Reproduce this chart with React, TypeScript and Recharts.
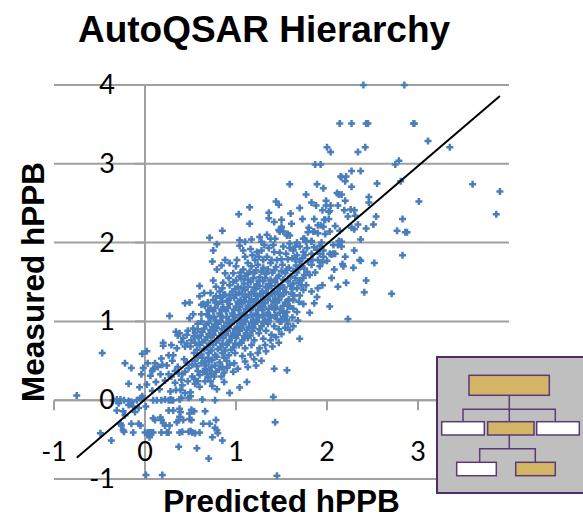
import { ScatterChart, Scatter, XAxis, YAxis, CartesianGrid, ReferenceLine } from 'recharts';

const xTicks = [-1, 0, 1, 2, 3, 4];
const yTicks = [-1, 0, 1, 2, 3, 4];
const xTickLabels = [-1, 0, 1, 2, 3];
const fitLine = [{ x: -0.75, y: -0.73 }, { x: 3.9, y: 3.86 }];

// [predicted, measured]
const upperTail = [
    [2.4, 4], [2.85, 4], [2.14, 3.51], [2.27, 3.51], [2.43, 3.51], [2.45, 3.51], [2.95, 3.51], [2.96, 3.51],
    [3.11, 3.29], [3.35, 3.21], [2.0, 3.21], [2.04, 3.15], [2.34, 3.15], [2.42, 3.21], [1.87, 2.99], [1.93, 2.99],
    [2.75, 2.99], [2.79, 3.04], [2.27, 2.91], [2.37, 2.91], [2.15, 2.84], [2.16, 2.83], [2.21, 2.84], [2.2, 2.78],
    [2.55, 2.75], [2.81, 2.78], [2.27, 2.71], [1.89, 2.74], [1.96, 2.69], [3.6, 2.74], [3.9, 2.65], [3.86, 2.36],
    [1.77, 2.61], [2.11, 2.63], [2.13, 2.61], [2.16, 2.61], [2.46, 2.58], [2.46, 2.51], [2.2, 2.53], [3.01, 2.52],
    [1.83, 2.51], [1.88, 2.47], [1.7, 2.44], [1.95, 2.41], [1.99, 2.53], [1.99, 2.47], [2.04, 2.47], [2.12, 2.47],
    [2.03, 2.4], [2.02, 2.39], [2.19, 2.41], [2.26, 2.42], [2.3, 2.41], [2.23, 2.33], [2.31, 2.34], [2.54, 2.33],
    [2.83, 2.3], [1.73, 2.3], [1.61, 2.24], [1.86, 2.3], [1.97, 2.29], [2.02, 2.3], [2.34, 2.23], [2.51, 2.23],
    [2.27, 2.19], [2.3, 2.17], [2.43, 2.18], [2.09, 2.21], [1.9, 2.22], [1.93, 2.22], [1.8, 2.19], [1.79, 2.13],
    [1.86, 2.14], [1.9, 2.12], [2.03, 2.14], [1.98, 2.11], [2.14, 2.15], [2.77, 2.15], [2.86, 2.13], [2.88, 2.13],
    [2.37, 2.04], [1.75, 2.05], [1.77, 2.02], [1.83, 2.02], [1.94, 2.0], [2.13, 2.02], [2.16, 2.01], [2.3, 1.9],
    [2.16, 1.95], [1.67, 2.0], [1.65, 1.95], [2.83, 1.84], [2.2, 1.82], [2.07, 1.86], [2.05, 1.85], [2.37, 1.77],
    [2.36, 1.78], [2.52, 1.74], [2.17, 1.73], [2.18, 1.7], [2.29, 1.68], [2.08, 1.66], [2.43, 1.52], [2.21, 1.49],
    [2.12, 1.44], [2.05, 1.55], [1.95, 1.46], [2.41, 1.37], [2.71, 1.35], [2.03, 1.19], [2.23, 1.03], [1.7, 0.78],
    [1.74, 1.22], [1.86, 1.23], [1.81, 1.11], [1.68, 1.01], [1.63, 0.94], [1.89, 1.31], [1.67, 1.12], [1.63, 1.16],
    [1.59, 1.19], [1.56, 1.12], [1.52, 1.06], [1.48, 1.0], [1.56, 1.02], [1.9, 1.42], [1.83, 1.38], [1.7, 1.33],
    [1.74, 1.4], [1.77, 1.46], [1.81, 1.59], [1.7, 1.52], [1.63, 1.48], [1.6, 2.37], [1.5, 2.2], [1.48, 2.14],
    [1.57, 2.11], [1.59, 2.09], [1.85, 2.14], [1.96, 2.2], [1.98, 2.29], [1.74, 2.05], [1.59, 1.93], [1.77, 2.01],
    [1.83, 2.01], [1.74, 1.88], [1.67, 1.84], [1.89, 1.91], [1.92, 1.86], [1.96, 1.82], [2.07, 1.97], [2.12, 1.97],
    [2.09, 1.86], [2.03, 1.86],
];

const upperEdge = [
    [0.71, 2.06], [0.85, 2.15], [1.03, 2.36], [1.15, 2.45], [1.15, 2.24], [0.79, 1.98], [0.75, 1.9], [0.74, 1.76],
    [0.79, 1.66], [0.6, 1.45], [1.44, 2.52], [1.47, 2.48], [1.36, 2.38], [1.36, 2.31], [1.5, 2.29], [1.42, 2.26],
    [1.59, 2.74], [1.04, 2.03], [1.1, 2.01], [1.17, 2.04], [1.26, 2.07], [1.28, 2.01], [1.34, 2.1], [1.38, 2.05],
    [1.47, 2.16], [1.52, 2.14], [1.56, 2.09], [1.43, 2.05], [1.04, 1.96], [1.08, 1.9], [1.23, 1.88], [1.28, 1.9],
    [1.1, 1.82], [1.01, 1.78], [0.88, 1.78], [0.84, 1.71], [0.93, 1.74], [1.13, 1.74], [0.88, 1.61], [0.97, 1.61],
    [0.75, 1.52], [0.86, 1.49], [1.04, 1.57], [1.15, 1.63], [1.21, 1.78], [1.34, 1.82], [1.48, 1.87], [1.59, 1.99],
    [1.45, 1.78], [1.31, 1.97], [1.36, 1.93], [1.41, 1.97], [1.52, 1.95], [1.55, 1.86], [1.62, 1.8], [1.7, 1.76],
];

const denseCore = [
    [1.0, 1.7], [1.08, 1.66], [1.17, 1.7], [1.24, 1.72], [1.3, 1.68], [1.38, 1.74], [1.44, 1.69], [1.51, 1.72], [1.58, 1.68], [1.66, 1.71], [1.75, 1.67], [1.83, 1.72], [1.92, 1.7],
    [0.92, 1.55], [1.0, 1.52], [1.1, 1.58], [1.2, 1.61], [1.26, 1.56], [1.33, 1.6], [1.4, 1.62], [1.47, 1.58], [1.54, 1.61], [1.6, 1.57], [1.67, 1.62], [1.75, 1.59], [1.87, 1.62],
    [0.78, 1.44], [0.93, 1.46], [1.02, 1.44], [1.09, 1.48], [1.16, 1.5], [1.23, 1.47], [1.3, 1.51], [1.36, 1.47], [1.43, 1.5], [1.5, 1.46], [1.57, 1.51], [1.65, 1.55], [1.72, 1.46],
    [0.72, 1.36], [0.82, 1.38], [0.88, 1.34], [0.96, 1.38], [1.03, 1.36], [1.1, 1.4], [1.17, 1.37], [1.22, 1.41], [1.29, 1.38], [1.35, 1.42], [1.42, 1.38], [1.48, 1.41], [1.55, 1.37], [1.62, 1.41],
    [0.75, 1.27], [0.83, 1.3], [0.9, 1.26], [0.98, 1.3], [1.05, 1.27], [1.11, 1.31], [1.17, 1.28], [1.24, 1.32], [1.3, 1.29], [1.37, 1.33], [1.43, 1.29], [1.5, 1.32], [1.58, 1.28], [1.64, 1.33],
    [0.66, 1.2], [0.72, 1.17], [0.8, 1.22], [0.86, 1.18], [0.93, 1.22], [1.0, 1.19], [1.07, 1.23], [1.13, 1.2], [1.2, 1.24], [1.26, 1.2], [1.32, 1.23], [1.39, 1.2], [1.45, 1.24], [1.52, 1.2], [1.57, 1.26],
    [0.68, 1.09], [0.75, 1.13], [0.82, 1.1], [0.89, 1.13], [0.96, 1.1], [1.03, 1.14], [1.09, 1.11], [1.16, 1.14], [1.22, 1.1], [1.29, 1.14], [1.35, 1.11], [1.42, 1.15], [1.48, 1.11],
    [0.72, 1.04], [0.78, 1.01], [0.85, 1.05], [0.92, 1.02], [0.99, 1.05], [1.06, 1.02], [1.12, 1.05], [1.19, 1.02], [1.25, 1.05], [1.32, 1.02], [1.38, 1.05], [1.45, 1.03],
    [0.67, 0.96], [0.74, 0.93], [0.8, 0.97], [0.87, 0.94], [0.94, 0.97], [1.01, 0.93], [1.08, 0.96], [1.14, 0.93], [1.21, 0.97], [1.28, 0.94], [1.35, 0.97], [1.42, 0.94],
    [0.36, 0.82], [0.47, 0.88], [0.55, 0.85], [0.63, 0.87], [0.7, 0.84], [0.77, 0.88], [0.84, 0.85], [0.91, 0.88], [0.97, 0.85], [1.04, 0.88], [1.11, 0.85], [1.18, 0.88], [1.25, 0.85], [1.33, 0.88], [1.39, 0.83],
    [0.42, 0.79], [0.51, 0.76], [0.59, 0.79], [0.66, 0.76], [0.73, 0.8], [0.8, 0.76], [0.86, 0.79], [0.93, 0.76], [1.0, 0.79], [1.07, 0.76], [1.13, 0.79], [1.2, 0.76], [1.3, 0.78],
    [0.5, 0.68], [0.6, 0.7], [0.68, 0.67], [0.75, 0.7], [0.83, 0.67], [0.9, 0.7], [0.97, 0.67], [1.03, 0.7], [1.1, 0.66], [1.17, 0.7], [1.26, 0.66],
    [0.54, 0.6], [0.62, 0.58], [0.7, 0.6], [0.77, 0.57], [0.85, 0.6], [0.92, 0.57], [0.99, 0.6], [1.07, 0.56], [1.16, 0.58],
    [0.18, 0.53], [0.3, 0.5], [0.43, 0.52], [0.55, 0.5], [0.66, 0.49], [0.74, 0.51], [0.82, 0.48], [0.9, 0.5], [0.98, 0.47], [1.1, 0.49],
    [0.14, 0.42], [0.24, 0.44], [0.36, 0.42], [0.48, 0.41], [0.57, 0.43], [0.66, 0.4], [0.73, 0.42], [0.81, 0.39], [0.9, 0.41], [1.02, 0.4],
    [0.06, 0.31], [0.17, 0.33], [0.29, 0.3], [0.41, 0.33], [0.52, 0.3], [0.6, 0.32], [0.69, 0.29], [0.84, 0.3], [0.76, 0.3], [0.97, 0.36],
    [0.02, 0.2], [0.12, 0.23], [0.22, 0.25], [0.33, 0.22], [0.41, 0.19], [0.47, 0.24], [0.55, 0.21], [0.6, 0.17], [0.74, 0.18], [0.79, 0.14], [1.04, 0.16], [0.93, 0.09], [1.12, 0.23],
    [0.08, 0.12], [0.16, 0.14], [0.28, 0.11], [0.39, 0.13], [0.5, 0.1],
];

// second pass over the solid part of the cloud, where the marks overlap
const coreFill = [
    [1.05, 1.62], [1.13, 1.6], [1.22, 1.65], [1.28, 1.63], [1.35, 1.66], [1.42, 1.65], [1.5, 1.64], [1.56, 1.66], [1.63, 1.64],
    [0.97, 1.5], [1.06, 1.54], [1.13, 1.53], [1.19, 1.55], [1.25, 1.52], [1.32, 1.55], [1.38, 1.53], [1.45, 1.55], [1.52, 1.53], [1.6, 1.45],
    [0.85, 1.42], [0.99, 1.41], [1.06, 1.42], [1.13, 1.44], [1.2, 1.43], [1.26, 1.45], [1.33, 1.44], [1.39, 1.45], [1.46, 1.44], [1.53, 1.43],
    [0.78, 1.32], [0.86, 1.33], [0.93, 1.33], [1.0, 1.34], [1.07, 1.34], [1.14, 1.34], [1.2, 1.35], [1.27, 1.35], [1.33, 1.36], [1.4, 1.35], [1.46, 1.35], [1.52, 1.36],
    [0.69, 1.24], [0.78, 1.24], [0.85, 1.25], [0.92, 1.27], [1.02, 1.25], [1.09, 1.26], [1.15, 1.25], [1.22, 1.27], [1.28, 1.25], [1.35, 1.27], [1.41, 1.26], [1.47, 1.27], [1.54, 1.24],
    [0.7, 1.14], [0.77, 1.17], [0.84, 1.15], [0.91, 1.17], [0.98, 1.15], [1.04, 1.18], [1.11, 1.16], [1.18, 1.18], [1.24, 1.15], [1.3, 1.18], [1.36, 1.16], [1.43, 1.18], [1.49, 1.16],
    [0.7, 1.07], [0.76, 1.06], [0.83, 1.07], [0.9, 1.06], [0.97, 1.07], [1.04, 1.08], [1.1, 1.07], [1.17, 1.08], [1.23, 1.07], [1.3, 1.08], [1.37, 1.07], [1.43, 1.08],
    [0.7, 0.98], [0.77, 0.96], [0.83, 1.0], [0.9, 0.98], [0.97, 1.0], [1.04, 0.98], [1.1, 1.0], [1.17, 0.98], [1.23, 1.0], [1.3, 0.99], [1.36, 1.0],
    [0.58, 0.9], [0.65, 0.91], [0.72, 0.89], [0.79, 0.92], [0.85, 0.9], [0.92, 0.92], [0.99, 0.9], [1.06, 0.91], [1.12, 0.89], [1.19, 0.92], [1.26, 0.9],
    [0.54, 0.81], [0.61, 0.82], [0.68, 0.8], [0.75, 0.83], [0.82, 0.81], [0.89, 0.83], [0.95, 0.81], [1.02, 0.83], [1.09, 0.81], [1.16, 0.82],
    [0.46, 0.72], [0.55, 0.73], [0.63, 0.74], [0.71, 0.72], [0.78, 0.74], [0.85, 0.72], [0.92, 0.74], [0.99, 0.72], [1.06, 0.73],
    [0.57, 0.64], [0.65, 0.65], [0.73, 0.63], [0.8, 0.65], [0.88, 0.63], [0.95, 0.64],
    [0.58, 0.55], [0.69, 0.54], [0.79, 0.55], [0.87, 0.54],
];

// right of the fit line, and the thick band going up to y = 2
const lowerRightBand = [
    [1.47, 0.9], [1.54, 0.92], [1.59, 0.89], [1.5, 0.84], [1.44, 0.8], [1.38, 0.76], [1.47, 0.73], [1.32, 0.7],
    [1.4, 0.68], [1.24, 0.6], [1.33, 0.62], [1.2, 0.52], [1.28, 0.5], [1.13, 0.42], [1.22, 0.44], [1.57, 0.97],
    [1.62, 1.05], [1.52, 1.13], [1.57, 1.2], [1.63, 1.27], [1.69, 1.25], [1.54, 1.07], [1.5, 1.0],
    [1.67, 1.42], [1.61, 1.35], [1.69, 1.49], [1.74, 1.55], [1.78, 1.63], [1.68, 1.66], [1.72, 1.7], [1.79, 1.76],
    [1.84, 1.78], [1.9, 1.78], [1.76, 1.84], [1.83, 1.86], [1.86, 1.94], [1.78, 1.93], [1.7, 1.95], [1.63, 1.9],
    [1.57, 1.79], [1.5, 1.79], [1.42, 1.88], [1.39, 1.78], [1.3, 1.78], [1.25, 1.82], [1.18, 1.84], [1.16, 1.92],
    [1.65, 1.79], [1.73, 1.8], [1.95, 1.75], [2.0, 1.77], [1.96, 1.9], [1.92, 1.96],
];

const lowerClumps = [
    [0.62, 0.47], [0.67, 0.44], [0.71, 0.38], [0.64, 0.36], [0.77, 0.44], [0.7, 0.49], [0.78, 0.36], [0.63, 0.54],
    [0.68, 0.33], [0.73, 0.33], [0.58, 0.37], [0.52, 0.45], [0.46, 0.48], [0.44, 0.36], [0.37, 0.34], [0.33, 0.37],
    [0.26, 0.33], [0.58, 0.24], [0.54, 0.27], [0.66, 0.24], [0.4, 0.26], [0.85, 0.42], [0.87, 0.35], [0.93, 0.45],
    [0.72, 0.24], [0.87, 0.23], [0.34, 0.13], [0.44, 0.09],
];

const midCluster = [
    [0.27, 1.07], [0.44, 1.23], [0.49, 1.24], [0.62, 1.21], [0.53, 1.09], [0.49, 1.04], [0.62, 1.09], [0.34, 0.87],
    [0.38, 0.85], [0.2, 0.73], [0.2, 0.69], [0.29, 0.7], [0.35, 0.66], [0.4, 0.74], [0.31, 0.57], [0.26, 0.57],
    [0.44, 0.68], [0.11, 0.47], [0.19, 0.45], [0.09, 0.4], [0.08, 0.37], [1.41, 0.04], [1.43, -0.28], [1.42, 0.4],
    [1.56, 0.38], [-0.03, 0.59], [0.02, 0.62], [0.03, 0.47], [-0.02, 0.41], [-0.04, 0.33], [0.46, 0.83], [0.53, 0.91],
    [0.64, 1.22], [0.6, 1.32], [0.65, 1.36], [0.62, 1.0], [0.58, 0.97],
];

const lowerTail = [
    [-0.75, 0.06], [-0.47, 0.6], [-0.22, 0.47], [-0.15, 0.41], [-0.18, 0.21], [-0.06, 0.165], [-0.35, 0], [-0.31, 0.01],
    [-0.27, 0.01], [-0.23, 0], [-0.18, -0.01], [-0.15, -0.02], [-0.09, 0], [-0.04, 0.03], [-0.03, 0.05], [0.09, 0],
    [0.13, 0], [0.18, 0], [0.22, 0.01], [0.26, 0], [0.28, 0.01], [0.29, 0], [0.31, 0], [0.38, 0.01], [0.4, 0.03],
    [0.48, 0.03], [0.5, 0.05], [0.63, 0.01], [0.77, 0], [-0.18, -0.06], [-0.29, -0.04], [-0.31, -0.13], [-0.24, -0.14],
    [-0.22, -0.19], [-0.11, -0.15], [-0.07, -0.1], [-0.13, -0.08], [0.01, -0.08], [-0.27, -0.3], [-0.26, -0.32],
    [-0.24, -0.38], [-0.23, -0.4], [-0.15, -0.3], [-0.07, -0.3], [-0.05, -0.32], [-0.13, -0.41], [-0.37, -0.51],
    [-0.49, -0.42], [0, -0.41], [0.03, -0.41], [0.05, -0.41], [0.07, -0.41], [0.05, -0.44], [0.05, -0.47], [0.09, -0.41],
    [0.18, -0.41], [0.24, -0.41], [0.26, -0.41], [0.38, -0.41], [0.41, -0.4], [0.48, -0.4], [0.5, -0.39], [0.52, -0.41],
    [0.55, -0.42], [0.6, -0.41], [0.26, -0.13], [0.31, -0.13], [0.38, -0.11], [0.39, -0.15], [0.51, -0.12], [0.54, -0.14],
    [0.66, -0.14], [0.49, -0.17], [0.38, -0.21], [0.37, -0.25], [0.35, -0.28], [0.42, -0.25], [0.49, -0.24], [0.51, -0.25],
    [0.09, -0.23], [0.11, -0.25], [0.17, -0.22], [0.18, -0.25], [0.2, -0.29], [0.22, -0.32], [0.27, -0.32], [0.64, -0.3],
    [0.71, -0.3], [0.78, -0.25], [0.77, -0.35], [0.79, -0.38], [0.8, -0.42], [0.74, -0.47], [0.85, -0.51], [0.37, -0.59],
    [0.57, -0.61], [0.7, -0.74], [0.01, -0.95], [0.19, -0.95], [1.45, -0.96],
];

const rows = [upperTail, upperEdge, denseCore, coreFill, lowerRightBand, lowerClumps, midCluster, lowerTail];
const points = rows.flat().map(([x, y]) => ({ x, y }));

const Plus = ({ cx, cy }: any) => (
    <path d={`M${cx - 3.5} ${cy}H${cx + 3.5}M${cx} ${cy - 3.5}V${cy + 3.5}`} stroke="#4a7ebb" strokeWidth={2.5} fill="none" />
);

const XLabel = ({ x, y, payload }: any) => (
    <text x={x} y={y} dy={-26} textAnchor="middle" fontFamily="Lato" fontSize={27} fill="#000">
        {payload.value}
    </text>
);

const YLabel = ({ x, y, payload }: any) => (
    <text x={x} y={y} dx={69} dy={9} textAnchor="end" fontFamily="Lato" fontSize={27} fill="#000">
        {payload.value}
    </text>
);

export default function App() {
    return (
        <div style={{ position: 'absolute', left: 0, top: 0, width: 583, height: 515, background: '#fff' }}>
            <ScatterChart width={583} height={515} margin={{ top: 85, right: 74, bottom: 0, left: 0 }}>
                <CartesianGrid horizontal vertical={false} stroke="#a0a0a0" strokeWidth={2} />
                <XAxis type="number" dataKey="x" domain={[-1, 4]} ticks={xTickLabels} height={36} axisLine={false} tickLine={false} tick={<XLabel />} interval={0} />
                <YAxis type="number" dataKey="y" domain={[-1, 4]} ticks={yTicks} width={54} axisLine={false} tickLine={false} tick={<YLabel />} interval={0} />
                <ReferenceLine x={0} stroke="#a0a0a0" strokeWidth={2} />
                <ReferenceLine y={0} stroke="#a0a0a0" strokeWidth={2} />
                {xTicks.map((t) => (
                    <ReferenceLine key={`x${t}`} segment={[{ x: t, y: 0 }, { x: t, y: -0.127 }]} stroke="#a0a0a0" strokeWidth={2} />
                ))}
                {yTicks.map((t) => (
                    <ReferenceLine key={`y${t}`} segment={[{ x: -0.11, y: t }, { x: 0, y: t }]} stroke="#a0a0a0" strokeWidth={2} />
                ))}
                <Scatter data={points} shape={<Plus />} isAnimationActive={false} />
                <Scatter data={fitLine} line={{ stroke: '#000', strokeWidth: 2 }} shape={() => <g />} isAnimationActive={false} />
                <text x={264} y={42} textAnchor="middle" fontFamily="Liberation Sans" fontWeight="bold" fontSize={37} fill="#000">AutoQSAR Hierarchy</text>
                <text x={281.5} y={512} textAnchor="middle" fontFamily="Liberation Sans" fontWeight="bold" fontSize={31.5} fill="#000">Predicted hPPB</text>
                <text x={44} y={282} transform="rotate(-90 44 282)" textAnchor="middle" fontFamily="Liberation Sans" fontWeight="bold" fontSize={31.5} fill="#000">Measured hPPB</text>
            </ScatterChart>
            <svg width={583} height={515} style={{ position: 'absolute', left: 0, top: 0 }}>
                <rect x={437} y={357} width={150} height={136} fill="#bfbfbf" stroke="#4f2d69" strokeWidth={2} />
                <g fill="none" stroke="#5b3a75" strokeWidth={1.5}>
                    <path d="M509.3 395V421.7M463 421.7V409.3H555.3V421.7" />
                    <path d="M509.3 435V448.7M479.7 462.3V448.7H535.3V462.3" />
                </g>
                <g stroke="#5b3a75" strokeWidth={1.5}>
                    <rect x={469} y={375.3} width={80.3} height={20} fill="#d4b566" />
                    <rect x={441.7} y={421.7} width={42.6} height={13.3} fill="#fff" />
                    <rect x={487.7} y={421.7} width={46.3} height={13.3} fill="#d4b566" />
                    <rect x={536.7} y={421.7} width={42.6} height={13.3} fill="#fff" />
                    <rect x={456.7} y={462.3} width={39.6} height={13.4} fill="#fff" />
                    <rect x={515.7} y={462.3} width={39.6} height={13.4} fill="#d4b566" />
                </g>
            </svg>
        </div>
    );
}
